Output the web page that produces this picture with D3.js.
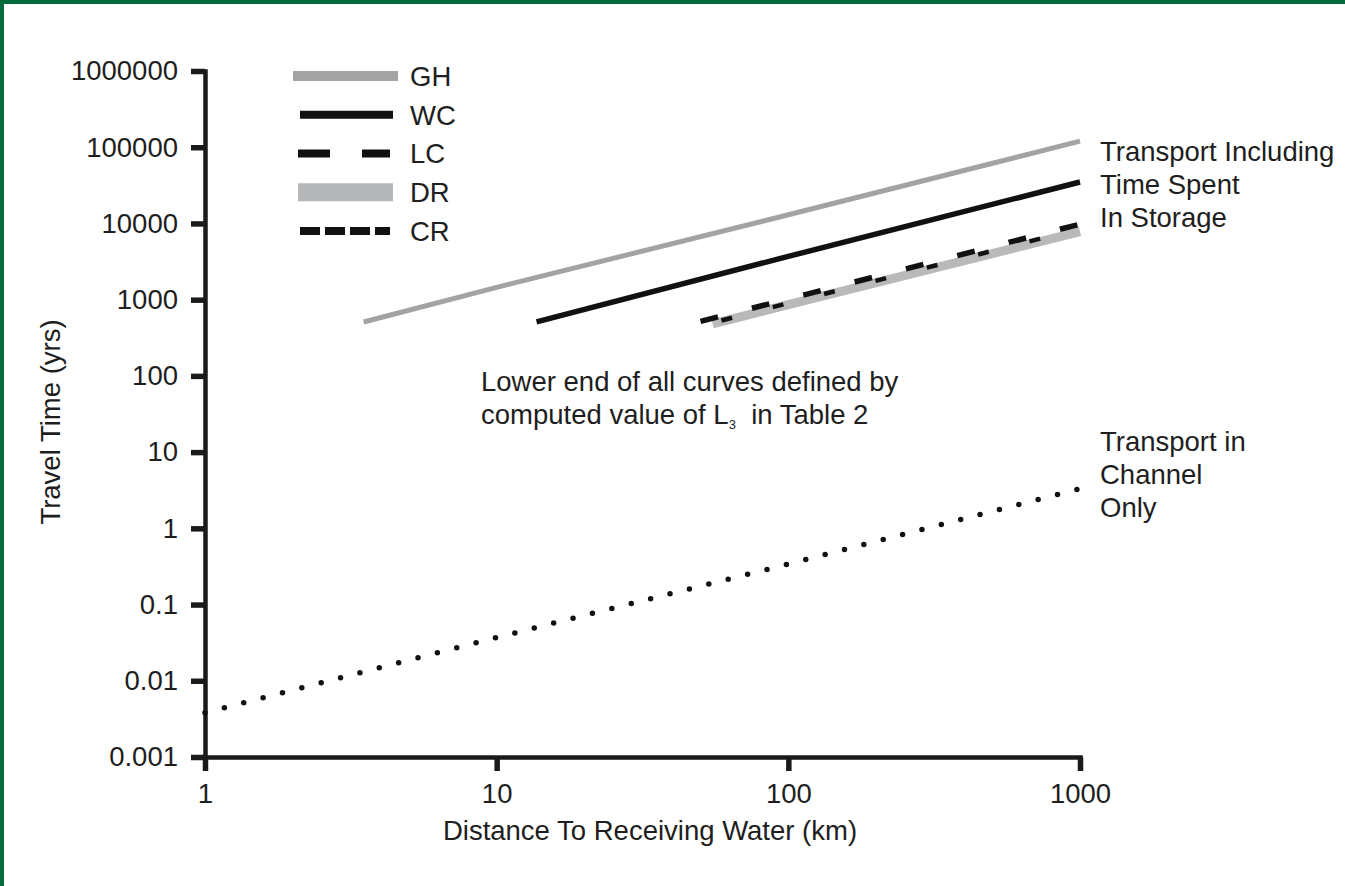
<!DOCTYPE html>
<html>
<head>
<meta charset="utf-8">
<script src="https://cdn.jsdelivr.net/npm/d3@7"></script>
<style>
  html, body { margin: 0; padding: 0; background: #fff; }
  svg { display: block; }
  text { font-family: "Liberation Sans", Arial, Helvetica, sans-serif; fill: #1e1e1e; white-space: pre; }
</style>
</head>
<body>
<div id="container"></div>
<script>
let width = 1345;
let height = 886;

// distance (km) / travel time (yrs)
let distGH = [3.5, 10, 100, 1000];
let timeGH = [510, 1450, 13000, 120000];
let distWC = [13.7, 100, 1000];
let timeWC = [510, 3700, 35000];
let distLC = [50, 100, 1000];
let timeLC = [520, 1020, 9800];
let distDR = [55, 100, 1000];
let timeDR = [480, 860, 7800];
let distCR = [53, 100, 1000];
let timeCR = [480, 900, 8600];
let distChannel = [1, 10, 100, 1000];
let timeChannel = [0.0038, 0.037, 0.34, 3.3];

let legendNames = ["GH", "WC", "LC", "DR", "CR"];
let xTicks = [1, 10, 100, 1000];
let yTicks = [0.001, 0.01, 0.1, 1, 10, 100, 1000, 10000, 100000, 1000000];

let fontSize = 27.5;

function zip(xs, ys) {
  return xs.map((d, i) => [d, ys[i]]);
}

function drawChart() {
  let svg = d3.select("#container")
    .append("svg")
    .attr("width", width)
    .attr("height", height);

  // green frame (left + top only)
  svg.append("rect").attr("x", 0).attr("y", 0).attr("width", width).attr("height", height).attr("fill", "#fff");
  svg.append("rect").attr("x", 0).attr("y", 0).attr("width", 4).attr("height", height).attr("fill", "#056b3d");
  svg.append("rect").attr("x", 0).attr("y", 0).attr("width", width).attr("height", 4).attr("fill", "#056b3d");

  let x = d3.scaleLog().domain([1, 1000]).range([205, 1080]);
  let y = d3.scaleLog().domain([0.001, 1000000]).range([757, 71]);

  let line = d3.line()
    .x((d) => x(d[0]))
    .y((d) => y(d[1]));

  // axes
  let yAxis = svg.append("g")
    .attr("transform", "translate(205,0)")
    .call(d3.axisLeft(y).tickValues(yTicks).tickFormat(d3.format("~f")).tickSize(14).tickSizeOuter(0).tickPadding(13));
  let xAxis = svg.append("g")
    .attr("transform", "translate(0,757)")
    .call(d3.axisBottom(x).tickValues(xTicks).tickFormat(d3.format("~f")).tickSize(14).tickSizeOuter(0).tickPadding(12));

  [xAxis, yAxis].forEach(function (a) {
    a.select(".domain").attr("stroke", "#1a1a1a").attr("stroke-width", 4.5).attr("stroke-linecap", "square");
    a.selectAll(".tick line").attr("stroke", "#1a1a1a").attr("stroke-width", 5.5);
    a.selectAll(".tick text").attr("font-size", fontSize).attr("font-family", null).attr("fill", "#1e1e1e");
  });

  // axis titles
  svg.append("text")
    .attr("x", 650).attr("y", 840)
    .attr("text-anchor", "middle")
    .attr("font-size", fontSize)
    .text("Distance To Receiving Water (km)");
  svg.append("text")
    .attr("transform", "translate(60,422) rotate(-90)")
    .attr("text-anchor", "middle")
    .attr("font-size", fontSize)
    .text("Travel Time (yrs)");

  // curves
  svg.append("path").datum(zip(distGH, timeGH))
    .attr("d", line).attr("fill", "none")
    .attr("stroke", "#a3a3a3").attr("stroke-width", 5);
  svg.append("path").datum(zip(distWC, timeWC))
    .attr("d", line).attr("fill", "none")
    .attr("stroke", "#111").attr("stroke-width", 5.5);
  svg.append("path").datum(zip(distDR, timeDR))
    .attr("d", line).attr("fill", "none")
    .attr("stroke", "#b9b9bb").attr("stroke-width", 9);
  svg.append("path").datum(zip(distLC, timeLC))
    .attr("d", line).attr("fill", "none")
    .attr("stroke", "#111").attr("stroke-width", 5.5)
    .attr("stroke-dasharray", "18,35");
  svg.append("path").datum(zip(distCR, timeCR))
    .attr("d", line).attr("fill", "none")
    .attr("stroke", "#111").attr("stroke-width", 4.5)
    .attr("stroke-dasharray", "11,42").attr("stroke-dashoffset", -14);
  svg.append("path").datum(zip(distChannel, timeChannel))
    .attr("d", line).attr("fill", "none")
    .attr("stroke", "#111").attr("stroke-width", 5.5)
    .attr("stroke-linecap", "round")
    .attr("stroke-dasharray", "0,20");

  // legend
  let legendStyle = {
    GH: { x1: 293, x2: 398, w: 10, color: "#a3a3a3", dash: null },
    WC: { x1: 300, x2: 393, w: 8, color: "#111", dash: null },
    LC: { x1: 298, x2: 390, w: 8, color: "#111", dash: "32,32" },
    DR: { x1: 298, x2: 393, w: 18, color: "#b6b7b9", dash: null },
    CR: { x1: 300, x2: 390, w: 8, color: "#111", dash: "20,5" }
  };
  let legendY = d3.scalePoint().domain(legendNames).range([76, 231]);
  let leg = svg.append("g")
    .selectAll("g")
    .data(legendNames)
    .join("g")
    .attr("transform", (d) => `translate(0,${legendY(d)})`);
  leg.append("line")
    .attr("x1", (d) => legendStyle[d].x1)
    .attr("x2", (d) => legendStyle[d].x2)
    .attr("stroke", (d) => legendStyle[d].color)
    .attr("stroke-width", (d) => legendStyle[d].w)
    .attr("stroke-dasharray", (d) => legendStyle[d].dash);
  leg.append("text")
    .attr("x", 410)
    .attr("dy", "0.36em")
    .attr("font-size", fontSize)
    .text((d) => d);

  // annotations
  let storage = svg.append("text").attr("font-size", fontSize);
  ["Transport Including", "Time Spent", "In Storage"].forEach(function (s, i) {
    storage.append("tspan").attr("x", 1100).attr("y", 161 + i * 33).text(s);
  });
  let channel = svg.append("text").attr("font-size", fontSize);
  ["Transport in", "Channel", "Only"].forEach(function (s, i) {
    channel.append("tspan").attr("x", 1100).attr("y", 451 + i * 33).text(s);
  });
  svg.append("text")
    .attr("x", 481).attr("y", 391)
    .attr("font-size", fontSize)
    .text("Lower end of all curves defined by");
  let note = svg.append("text")
    .attr("x", 481).attr("y", 424)
    .attr("font-size", fontSize);
  note.append("tspan").text("computed value of L");
  note.append("tspan").attr("font-size", 13).attr("dy", 5).text("3");
  note.append("tspan").attr("dy", -5).text("  in Table 2");
}

function main() {
  drawChart();
}

main();
</script>
</body>
</html>
